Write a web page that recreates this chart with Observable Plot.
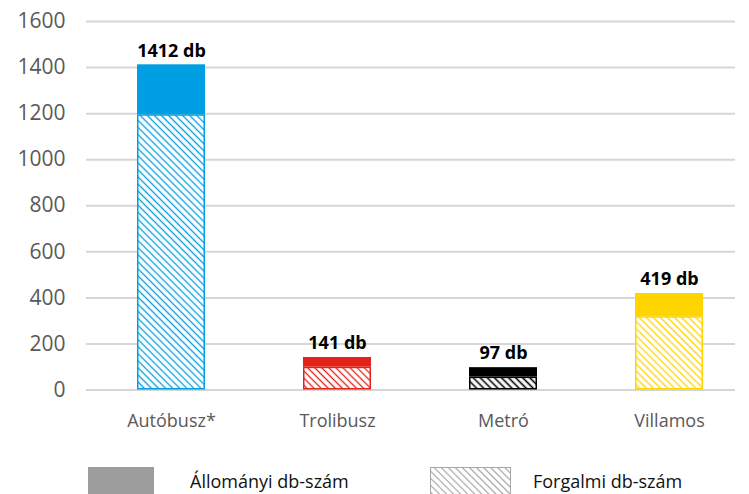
<!DOCTYPE html>
<html>
<head>
<meta charset="utf-8">
<script src="https://cdn.jsdelivr.net/npm/d3@7"></script>
<script src="https://cdn.jsdelivr.net/npm/@observablehq/plot@0.6"></script>
<style>
  html, body { margin: 0; padding: 0; background: #fff; }
  body { font-family: "Open Sans", sans-serif; width: 749px; height: 494px; overflow: hidden; }
  #legend { position: relative; width: 749px; height: 49px; }
  .sw { position: absolute; top: 0; height: 28px; box-sizing: border-box; }
  .lbl { position: absolute; top: 0; height: 28px; line-height: 28px; font-size: 18px; color: #111; white-space: nowrap; }
</style>
</head>
<body>
<div id="chart"></div>
<div id="legend"></div>
<script>
// ---- data ----
const categories = ["Autóbusz*", "Trolibusz", "Metró", "Villamos"];
const allomanyi = [1412, 141, 97, 419];   // total fleet (solid top)
const forgalmi = [1195, 99, 56, 318];     // in service (hatched)
const valueLabels = ["1412 db", "141 db", "97 db", "419 db"];
const barColors = ["#009fe3", "#e3221a", "#000000", "#ffd500"];
const yTicks = [0, 200, 400, 600, 800, 1000, 1200, 1400, 1600];
const legendLabels = ["Állományi db-szám", "Forgalmi db-szám"];

const data = categories.map((c, i) => ({
  cat: c,
  total: allomanyi[i],
  forg: forgalmi[i],
  label: valueLabels[i],
  color: barColors[i],
  pattern: `url(#hatch${i})`
}));

const chart = Plot.plot({
  width: 749,
  height: 445,
  marginTop: 21,
  marginBottom: 55.5,
  marginLeft: 86,
  marginRight: 14,
  style: { fontFamily: "'Open Sans', sans-serif", background: "#fff" },
  x: { domain: categories, paddingInner: 0.593, paddingOuter: 0.24, align: 0.61, label: null },
  y: { domain: [0, 1600], label: null },
  color: { type: "identity" },
  marks: [
    Plot.gridY(yTicks, { stroke: "#d6d6d6", strokeOpacity: 1, strokeWidth: 2 }),
    Plot.axisY(yTicks, { tickSize: 0, tickPadding: 21, fontSize: 21, fill: "#595959", tickFormat: d => String(d), label: null }),
    Plot.axisX({ tickSize: 0, tickPadding: 24, fontSize: 18, fill: "#595959", label: null }),
    Plot.barY(data, { x: "cat", y1: "forg", y2: "total", fill: "color" }),
    Plot.barY(data, { x: "cat", y1: 0, y2: "forg", fill: "pattern", stroke: "color", strokeWidth: 1.5, inset: 0.75 }),
    Plot.text(data, { x: "cat", y: "total", text: "label", dy: -14, fontSize: 18, fontWeight: "bold", fill: "#000" })
  ]
});

// hatch patterns
const ns = "http://www.w3.org/2000/svg";
const defs = document.createElementNS(ns, "defs");
function makePattern(id, color, sw) {
  const p = document.createElementNS(ns, "pattern");
  p.setAttribute("id", id);
  p.setAttribute("patternUnits", "userSpaceOnUse");
  p.setAttribute("width", "5");
  p.setAttribute("height", "5");
  p.setAttribute("patternTransform", "rotate(45)");
  const r = document.createElementNS(ns, "rect");
  r.setAttribute("width", "5"); r.setAttribute("height", "5"); r.setAttribute("fill", "#fff");
  const l = document.createElementNS(ns, "line");
  l.setAttribute("x1", "0"); l.setAttribute("y1", "2.5");
  l.setAttribute("x2", "5"); l.setAttribute("y2", "2.5");
  l.setAttribute("stroke", color); l.setAttribute("stroke-width", sw);
  p.appendChild(r); p.appendChild(l);
  return p;
}
barColors.forEach((c, i) => defs.appendChild(makePattern(`hatch${i}`, c, i === 2 ? 1.6 : 1.3)));
chart.insertBefore(defs, chart.firstChild);
document.getElementById("chart").appendChild(chart);

// legend
const legend = document.getElementById("legend");
legend.innerHTML = `
  <div class="sw" style="left:88px;top:22px;width:66px;background:#9d9d9d"></div>
  <div class="lbl" style="left:190px;top:22px">${legendLabels[0]}</div>
  <svg class="sw" style="left:430px;top:22px" width="81" height="28">
    <defs>${new XMLSerializer().serializeToString(makePattern("hatchLegend2", "#a6a6a6", 1.2))}</defs>
    <rect x="0.5" y="0.5" width="80" height="27" fill="url(#hatchLegend2)" stroke="#a6a6a6" stroke-width="1"/>
  </svg>
  <div class="lbl" style="left:533px;top:22px">${legendLabels[1]}</div>
`;
</script>
</body>
</html>
